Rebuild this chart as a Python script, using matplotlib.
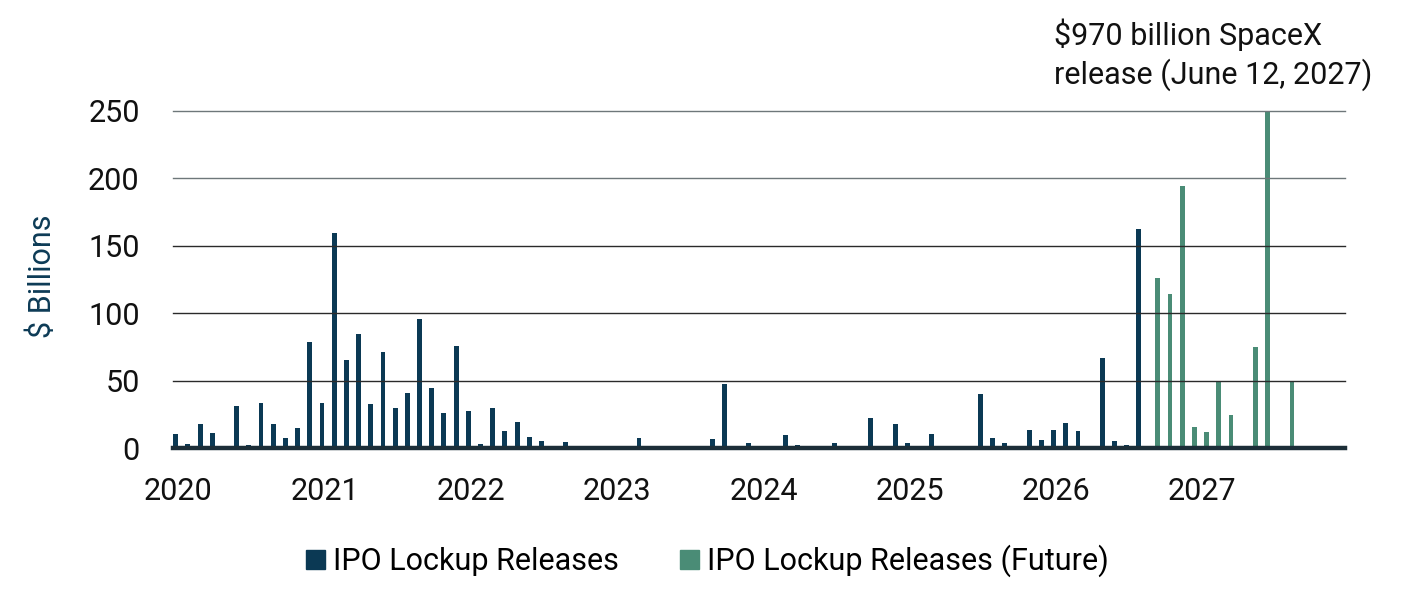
import matplotlib
matplotlib.use("Agg")
import matplotlib.pyplot as plt
from matplotlib.patches import Patch
import numpy as np

# ---- data (monthly, starting Jan 2020) ----
past_values = [
    10.5, 3, 18, 11.5, 2, 31.5, 2.6, 33.7, 18, 7.8, 15.2, 78.6,          # 2020
    33.7, 159.7, 65.5, 84.8, 33, 71.5, 30, 41, 96, 44.8, 26.3, 75.9,     # 2021
    27.8, 3.3, 30, 13, 19.6, 8.5, 5.6, 0, 4.7, 1.7, 0, 0,                # 2022
    0, 0, 7.9, 1.2, 1.7, 0, 1, 1.2, 6.9, 47.3, 0, 4,                     # 2023
    0, 1.2, 9.9, 2.5, 0, 0, 3.7, 1.7, 0, 22.5, 1.7, 18,                  # 2024
    4, 1.7, 10.6, 1.7, 0, 1.7, 40.3, 7.4, 3.7, 1.7, 13.7, 6.3,           # 2025
    13.7, 18.6, 13, 0, 67, 5.6, 2.6, 162.3,                              # 2026 Jan-Aug
]
future_start = 80  # Sep 2026
future_values = [126, 114.2, 194.2, 15.7, 12.2, 49.5, 24.8, 0, 74.9, 970, 0, 49.5]  # Sep 2026 - Aug 2027
year_labels = ["2020", "2021", "2022", "2023", "2024", "2025", "2026", "2027"]
y_ticks = [0, 50, 100, 150, 200, 250]
series_names = ["IPO Lockup Releases", "IPO Lockup Releases (Future)"]
annotation_lines = ["$970 billion SpaceX", "release (June 12, 2027)"]

BLUE = "#0b3954"
GREEN = "#4a8c76"
FS = 22

plt.rcParams['font.family'] = ['Roboto', 'DejaVu Sans']

fig = plt.figure(figsize=(14.07, 6.07), dpi=100)
ax = fig.add_axes([173/1407, 1-448.3/607, (1345-173)/1407, (448.3-110.7)/607])

x_past = np.arange(len(past_values))
x_future = np.arange(len(future_values)) + future_start + 0.55
ax.bar(x_past, past_values, width=0.4, color=BLUE, zorder=2)
ax.bar(x_future, future_values, width=0.4, color=GREEN, zorder=2)

ax.set_ylim(0, 250)
ax.set_xlim(-0.22, 95.9)
ax.set_yticks(y_ticks)
ax.set_xticks([12*k + 0.2 for k in range(len(year_labels))])
ax.set_xticklabels(year_labels)
ax.tick_params(axis='both', length=0, labelsize=FS, colors='#111111')
ax.tick_params(axis='y', pad=24)
ax.tick_params(axis='x', pad=21)

for yv in y_ticks[1:]:
    ax.axhline(yv, color='#2a2a2a' if yv < 200 else '#6e777a', lw=1, zorder=3, clip_on=False)

for s in ['left', 'right', 'top']:
    ax.spines[s].set_visible(False)
ax.spines['bottom'].set_color('#1c2e38')
ax.spines['bottom'].set_linewidth(3.2)
ax.spines['bottom'].set_zorder(4)

fig.text(42/1407, 1-276/607, "$ Billions", rotation=90, fontsize=FS, color='#0d3b56',
         ha='center', va='center')

for line, base_y in zip(annotation_lines, [45, 83.5]):
    fig.text(1054/1407, 1-base_y/607, line, fontsize=FS, color='#111111',
             ha='left', va='baseline')

handles = [Patch(color=BLUE), Patch(color=GREEN)]
fig.legend(handles, series_names, loc='center', bbox_to_anchor=(707/1407, 1-561/607), ncol=2,
           frameon=False, fontsize=FS, handlelength=0.62, handleheight=0.59,
           handletextpad=0.26, columnspacing=2.0)

fig.savefig("out.png", dpi=100)
